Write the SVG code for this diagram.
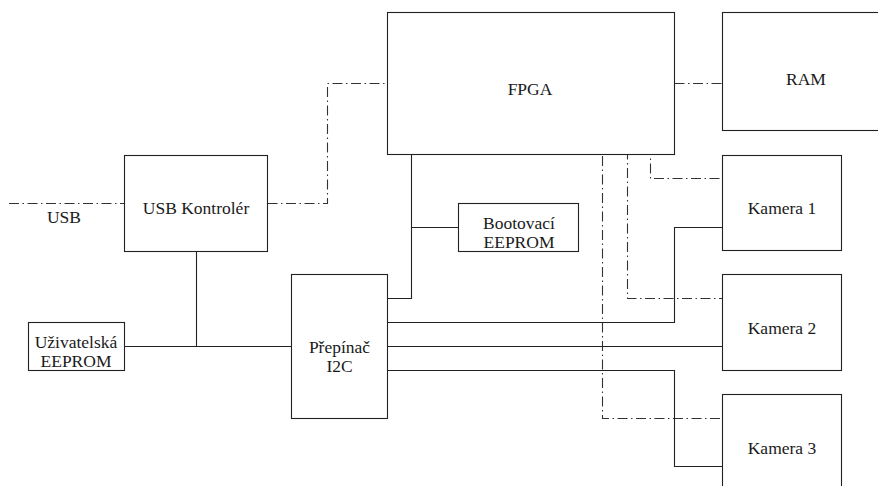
<svg xmlns="http://www.w3.org/2000/svg" width="878" height="486" viewBox="0 0 878 486">
  <style>
    .box { fill: #ffffff; stroke: #222222; stroke-width: 1.1; }
    .wire { fill: none; stroke: #222222; stroke-width: 1.1; }
    .bus { fill: none; stroke: #333333; stroke-width: 1.1; stroke-dasharray: 10 3.5 1.5 3.5; }
    text { font-family: "Liberation Serif", "Times New Roman", Tinos, "Noto Serif", "DejaVu Serif", serif; font-size: 17.5px; fill: #1a1a1a; text-anchor: middle; }
  </style>
  <rect width="878" height="486" fill="#ffffff"/>

  <!-- connectors -->
  <g id="connectors">
    <!-- data buses (dash-dot) -->
    <path class="bus" d="M9 203.5 H124.5"/>
    <path class="bus" d="M267.5 203.5 H327.5 V83.5 H387.5"/>
    <path class="bus" d="M674.5 83.5 H722.5"/>
    <path class="bus" d="M530 154.5 H650.5 V178.5 H722.5"/>
    <path class="bus" d="M530 154.5 H627.5 V298.5 H722.5"/>
    <path class="bus" d="M530 154.5 H602.5 V418.5 H722.5"/>
    <!-- I2C wiring (solid) -->
    <path class="wire" d="M196.5 251 V346.5"/>
    <path class="wire" d="M124.5 346.5 H291.5"/>
    <path class="wire" d="M387.5 298.5 H411.5 V154.5"/>
    <path class="wire" d="M411.5 227.5 H458.5"/>
    <path class="wire" d="M387.5 322.5 H674.5 V227.5 H722.5"/>
    <path class="wire" d="M387.5 346.5 H722.5"/>
    <path class="wire" d="M387.5 370.5 H674.5 V466.5 H722.5"/>
  </g>

  <text x="64" y="223">USB</text>

  <g id="fpga">
    <rect class="box" x="387.5" y="12.5" width="287" height="142"/>
    <text x="530" y="95">FPGA</text>
  </g>
  <g id="ram">
    <rect class="box" x="722.5" y="12.5" width="170" height="118"/>
    <text x="806" y="84.5">RAM</text>
  </g>
  <g id="usb-kontroler">
    <rect class="box" x="124.5" y="155.5" width="143" height="96"/>
    <text x="196" y="214">USB Kontrolér</text>
  </g>
  <g id="bootovaci-eeprom">
    <rect class="box" x="458.5" y="203.5" width="120" height="48"/>
    <text x="519" y="229">Bootovací</text>
    <text x="519" y="247.5">EEPROM</text>
  </g>
  <g id="uzivatelska-eeprom">
    <rect class="box" x="28.5" y="322.5" width="96" height="48"/>
    <text x="76" y="348">Uživatelská</text>
    <text x="76" y="367">EEPROM</text>
  </g>
  <g id="prepinac-i2c">
    <rect class="box" x="291.5" y="274.5" width="96" height="144"/>
    <text x="339.5" y="353">Přepínač</text>
    <text x="339.5" y="372">I2C</text>
  </g>
  <g id="kamera-1">
    <rect class="box" x="722.5" y="155.5" width="119" height="95"/>
    <text x="782" y="214">Kamera 1</text>
  </g>
  <g id="kamera-2">
    <rect class="box" x="722.5" y="274.5" width="119" height="96"/>
    <text x="782" y="334">Kamera 2</text>
  </g>
  <g id="kamera-3">
    <rect class="box" x="722.5" y="394.5" width="119" height="96"/>
    <text x="782" y="454">Kamera 3</text>
  </g>
</svg>
